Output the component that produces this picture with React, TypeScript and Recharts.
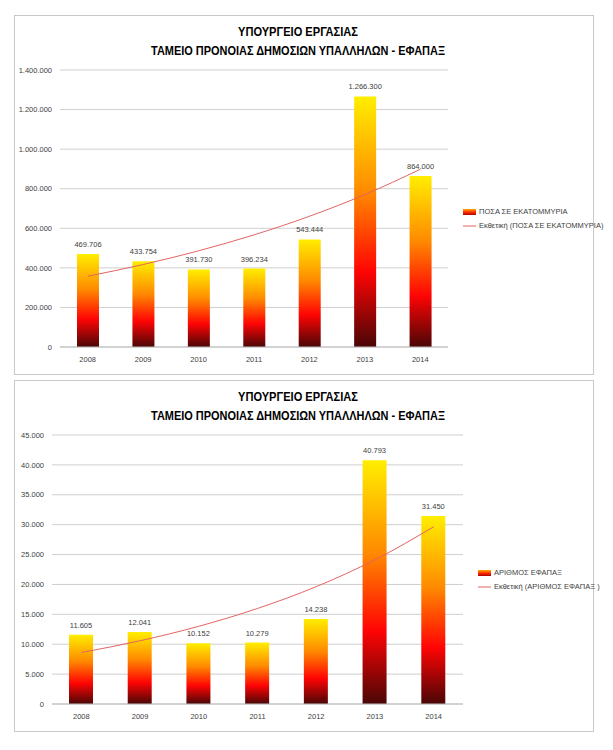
import React from 'react';
import { ComposedChart, Bar, Line, XAxis, YAxis, CartesianGrid, LabelList } from 'recharts';

const years = ['2008', '2009', '2010', '2011', '2012', '2013', '2014'];
const amounts = [469706, 433754, 391730, 396234, 543444, 1266300, 864000];
const amountTrend = [357600, 416900, 486100, 566700, 660700, 770300, 898100];
const amountTicks = [0, 200000, 400000, 600000, 800000, 1000000, 1200000, 1400000];
const counts = [11605, 12041, 10152, 10279, 14238, 40793, 31450];
const countTrend = [8610, 10580, 13000, 15980, 19630, 24120, 29640];
const countTicks = [0, 5000, 10000, 15000, 20000, 25000, 30000, 35000, 40000, 45000];

const titleLine1 = 'ΥΠΟΥΡΓΕΙΟ ΕΡΓΑΣΙΑΣ';
const titleLine2 = 'ΤΑΜΕΙΟ ΠΡΟΝΟΙΑΣ ΔΗΜΟΣΙΩΝ ΥΠΑΛΛΗΛΩΝ - ΕΦΑΠΑΞ';
const amountName = 'ΠΟΣΑ ΣΕ ΕΚΑΤΟΜΜΥΡΙΑ';
const amountTrendName = 'Εκθετική (ΠΟΣΑ ΣΕ ΕΚΑΤΟΜΜΥΡΙΑ)';
const countName = 'ΑΡΙΘΜΟΣ ΕΦΑΠΑΞ';
const countTrendName = 'Εκθετική (ΑΡΙΘΜΟΣ ΕΦΑΠΑΞ )';

const FONT = '"Liberation Sans", Arial, sans-serif';
const TEXT = '#404040';

const fmt = (v: any) => String(Math.round(Number(v))).replace(/\B(?=(\d{3})+(?!\d))/g, '.');

type PanelProps = {
  id: string;
  top: number;
  height: number;
  plotHeight: number;
  values: number[];
  trend: number[];
  ticks: number[];
  yWidth: number;
  rightMargin: number;
  barSize: number;
  barName: string;
  trendName: string;
  legendX: number;
  legendY: number;
};

function Panel(p: PanelProps) {
  const data = years.map((y, i) => ({ year: y, value: p.values[i], trend: p.trend[i] }));
  const W = 580;
  const max = p.ticks[p.ticks.length - 1];
  return (
    <div
      style={{
        position: 'absolute',
        left: 14 - 8,
        top: p.top - 8,
        width: W,
        height: p.height,
        border: '1px solid #c8c8c8',
        boxSizing: 'border-box',
        background: '#fff',
      }}
    >
      <svg width={W} height={60} style={{ position: 'absolute', left: 0, top: 0 }}>
        <text x={283} y={20} textAnchor="middle" fontFamily={FONT} fontWeight="bold" fontSize={13} fill="#000" textLength={120} lengthAdjust="spacingAndGlyphs">
          {titleLine1}
        </text>
        <text x={283} y={39} textAnchor="middle" fontFamily={FONT} fontWeight="bold" fontSize={13} fill="#000" textLength={294} lengthAdjust="spacingAndGlyphs">
          {titleLine2}
        </text>
      </svg>
      <div style={{ position: 'absolute', left: -1, top: -1 }}>
        <ComposedChart
          width={W}
          height={p.height}
          data={data}
          margin={{ top: 55, right: p.rightMargin, bottom: p.height - 55 - p.plotHeight - 20, left: 0 }}
          style={{ fontFamily: FONT }}
        >
          <defs>
            <linearGradient id={'fire' + p.id} x1="0" y1="1" x2="0" y2="0">
              <stop offset="0%" stopColor="#4a0606" />
              <stop offset="30%" stopColor="#ff0404" />
              <stop offset="62%" stopColor="#ff8a00" />
              <stop offset="100%" stopColor="#ffee00" />
            </linearGradient>
          </defs>
          <CartesianGrid vertical={false} stroke="#cfcfcf" strokeWidth={1} />
          <XAxis
            dataKey="year"
            height={20}
            tickLine={false}
            axisLine={{ stroke: '#bdbdbd' }}
            tick={{ fontSize: 7.5, fill: TEXT, fontFamily: FONT }}
            tickMargin={4}
            interval={0}
          />
          <YAxis
            width={p.yWidth}
            domain={[0, max]}
            ticks={p.ticks}
            tickFormatter={fmt}
            tickLine={false}
            axisLine={false}
            tick={{ fontSize: 7.5, fill: TEXT, fontFamily: FONT }}
            interval={0}
          />
          <Bar dataKey="value" name={p.barName} fill={`url(#fire${p.id})`} barSize={p.barSize} isAnimationActive={false}>
            <LabelList dataKey="value" position="top" offset={7} formatter={fmt} style={{ fontSize: 7.5, fill: TEXT, fontFamily: FONT }} />
          </Bar>
          <Line dataKey="trend" name={p.trendName} type="monotone" stroke="#e46464" strokeWidth={1} dot={false} activeDot={false} isAnimationActive={false} />
        </ComposedChart>
      </div>
      <div style={{ position: 'absolute', left: p.legendX - 14, top: p.legendY - p.top - 6, fontFamily: FONT, fontSize: 7.5, color: TEXT, lineHeight: '14px' }}>
        <div style={{ display: 'flex', alignItems: 'center', whiteSpace: 'nowrap' }}>
          <svg width={13} height={6} style={{ marginRight: 3 }}>
            <defs>
              <linearGradient id={'leg' + p.id} x1="0" y1="1" x2="0" y2="0">
                <stop offset="0%" stopColor="#b00000" />
                <stop offset="50%" stopColor="#ff3000" />
                <stop offset="100%" stopColor="#ffb000" />
              </linearGradient>
            </defs>
            <rect x={0} y={0} width={13} height={6} fill={`url(#leg${p.id})`} />
          </svg>
          <span>{p.barName}</span>
        </div>
        <div style={{ display: 'flex', alignItems: 'center', whiteSpace: 'nowrap' }}>
          <svg width={13} height={6} style={{ marginRight: 3 }}>
            <line x1={0} y1={3} x2={13} y2={3} stroke="#e46464" strokeWidth={1} />
          </svg>
          <span>{p.trendName}</span>
        </div>
      </div>
    </div>
  );
}

export default function App() {
  return (
    <div style={{ position: 'relative', width: 597, height: 734 }}>
      <Panel
        id="a"
        top={15}
        height={360}
        plotHeight={277}
        values={amounts}
        trend={amountTrend}
        ticks={amountTicks}
        yWidth={46}
        rightMargin={146}
        barSize={22}
        barName={amountName}
        trendName={amountTrendName}
        legendX={462}
        legendY={210}
      />
      <Panel
        id="b"
        top={380}
        height={352}
        plotHeight={269}
        values={counts}
        trend={countTrend}
        ticks={countTicks}
        yWidth={38}
        rightMargin={131}
        barSize={24}
        barName={countName}
        trendName={countTrendName}
        legendX={477}
        legendY={571}
      />
    </div>
  );
}
